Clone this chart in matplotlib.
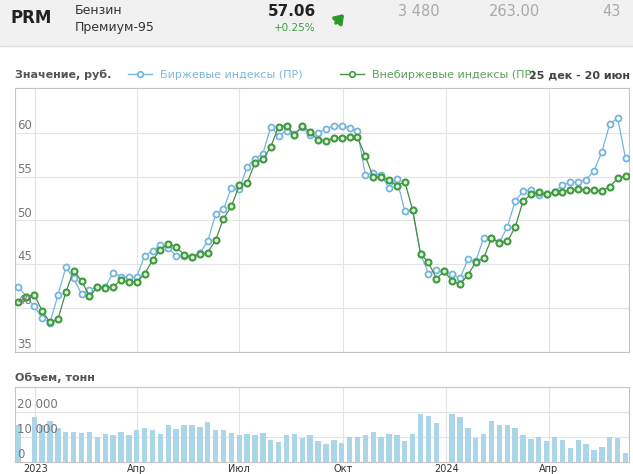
import matplotlib
matplotlib.use("Agg")
import matplotlib.pyplot as plt
import matplotlib.dates as mdates
from matplotlib.patches import Rectangle
from matplotlib.lines import Line2D
from matplotlib.ticker import FuncFormatter
import pandas as pd

# weekly points
dates = pd.date_range("2022-12-17", periods=78, freq="7D")

exchange = [42.45, 41.3, 40.2, 38.93, 38.35, 41.45, 44.65, 43.4, 41.6, 42.05,
            42.4, 42.45, 43.97, 43.6, 43.5, 43.6, 45.95, 46.5, 47.2, 46.87,
            45.95, 46.0, 45.88, 46.3, 47.6, 50.7, 51.3, 53.7, 53.55, 56.1,
            57.06, 57.63, 60.69, 59.66, 60.25, 59.85, 60.6, 59.7, 60.0, 60.42,
            60.82, 60.82, 60.58, 60.2, 55.15, 55.42, 55.17, 53.68, 54.7, 51.05,
            51.15, 46.2, 43.95, 44.35, 44.2, 43.85, 43.4, 45.55, 45.35, 47.98,
            47.95, 47.5, 49.22, 52.2, 53.3, 53.45, 52.95, 53.0, 53.25, 54.0,
            54.35, 54.35, 54.66, 55.65, 57.82, 60.99, 61.68, 57.1]

otc = [40.72, 41.3, 41.55, 39.7, 38.37, 38.72, 41.8, 44.27, 43.13, 41.34,
       42.37, 42.3, 42.44, 43.2, 43.0, 43.0, 43.9, 45.46, 46.64, 47.37,
       46.95, 46.1, 45.84, 46.18, 46.34, 47.75, 50.19, 51.6, 54.0, 54.27,
       56.56, 56.95, 58.4, 60.7, 60.8, 59.73, 60.8, 60.05, 59.18, 59.07,
       59.4, 59.4, 59.52, 59.52, 57.33, 54.94, 54.94, 54.56, 53.98, 54.41,
       51.2, 46.18, 45.21, 43.38, 44.18, 43.11, 42.7, 43.76, 45.25, 45.69,
       47.96, 47.48, 47.61, 49.22, 52.19, 52.96, 53.24, 52.98, 53.24, 53.24,
       53.5, 53.55, 53.47, 53.47, 53.36, 53.82, 54.8, 55.04]

volume = [14700, 0, 18000, 14900, 16300, 13600, 11900, 11900, 11500, 12100,
          10100, 11300, 10700, 12000, 10700, 12700, 13600, 12700, 11300, 14700,
          13100, 14700, 14700, 14100, 15900, 12700, 12700, 11600, 10700, 11100,
          10700, 11600, 8700, 8100, 10700, 11100, 9500, 10700, 8300, 7300,
          8900, 7700, 9900, 9900, 10900, 11900, 10000, 11300, 10900, 8300,
          11100, 18900, 18300, 15500, 0, 19100, 17900, 13600, 9500, 11300,
          16300, 14700, 14700, 13500, 10900, 9100, 10100, 8300, 10100, 8700,
          5600, 8700, 7100, 4700, 5900, 9900, 9500, 3600]

price_ticks = [35, 40, 45, 50, 55, 60]
volume_ticks = [0, 10000, 20000]
month_names = {1: None, 4: "Апр", 7: "Июл", 10: "Окт"}

BLUE = "#72b6df"
GREEN = "#3f9a3f"
W, H = 633, 474


def fx(x):
    return x / W


def fy(y):
    return 1 - y / H


fig = plt.figure(figsize=(6.33, 4.74), dpi=100)

# header strip
fig.patches.append(Rectangle((0, fy(46)), 1, 46 / H, transform=fig.transFigure,
                             color="#f1f1f1", zorder=0))
fig.add_artist(Line2D([0, 1], [fy(46), fy(46)], color="#e2e2e2", lw=1))
fig.text(fx(10), fy(18), "PRM", fontsize=12, fontweight="bold", color="#222", va="center")
fig.text(fx(75), fy(10), "Бензин", fontsize=9, color="#333", va="center")
fig.text(fx(75), fy(28), "Премиум-95", fontsize=9, color="#333", va="center")
fig.text(fx(316), fy(12), "57.06", fontsize=11, fontweight="bold", color="#222",
         va="center", ha="right")
fig.text(fx(316), fy(28), "+0.25%", fontsize=7.5, color="#3aa03a", va="center", ha="right")
fig.add_artist(plt.Annotation("", xy=(fx(346), fy(12)), xytext=(fx(334), fy(25)),
                              xycoords="figure fraction", textcoords="figure fraction",
                              arrowprops=dict(arrowstyle="-|>,head_length=0.5,head_width=0.35",
                                              color="#2a9a2a", lw=2.5)))
for txt, x in [("3 480", 440), ("263.00", 540), ("43", 621)]:
    fig.text(fx(x), fy(12), txt, fontsize=10.5, color="#aaaaaa", va="center", ha="right")

# titles / legend
fig.text(fx(15), fy(75), "Значение, руб.", fontsize=8, fontweight="bold", color="#555", va="center")
fig.add_artist(Line2D([fx(128), fx(140), fx(152)], [fy(74)] * 3, color=BLUE, lw=1,
                      marker="o", markevery=[1], ms=4, mfc="white", mec=BLUE, mew=1.2))
fig.text(fx(160), fy(75), "Биржевые индексы (ПР)", fontsize=8, color="#7ab8dc", va="center")
fig.add_artist(Line2D([fx(340), fx(352), fx(364)], [fy(74)] * 3, color=GREEN, lw=1,
                      marker="o", markevery=[1], ms=4, mfc="white", mec=GREEN, mew=1.2))
fig.text(fx(372), fy(75), "Внебиржевые индексы (ПР)", fontsize=8, color="#5aa05a", va="center")
fig.text(fx(630), fy(75), "25 дек - 20 июн", fontsize=8, fontweight="bold", color="#444",
         va="center", ha="right")
fig.text(fx(15), fy(378), "Объем, тонн", fontsize=8, fontweight="bold", color="#555", va="center")

ax = fig.add_axes([fx(15), fy(352), 614 / W, 264 / H])
ax2 = fig.add_axes([fx(15), fy(462), 614 / W, 75 / H])

xpad = pd.Timedelta(days=3.1)
for a in (ax, ax2):
    a.set_xlim(dates[0] - xpad, dates[-1] + xpad)
    a.xaxis.set_major_locator(mdates.MonthLocator(bymonth=[1, 4, 7, 10]))
    a.grid(True, color="#e4e4e4", lw=0.8)
    a.set_axisbelow(True)
    a.tick_params(length=0, labelleft=False)
    for s in a.spines.values():
        s.set_color("#c4c4c4")
        s.set_linewidth(0.8)

ax.plot(dates, exchange, color=BLUE, lw=0.9, marker="o", ms=4.3, mfc="white",
        mec=BLUE, mew=1.3, zorder=3)
ax.plot(dates, otc, color="#4a8a4a", lw=0.9, marker="o", ms=4.3, mfc="#dff0d8",
        mec=GREEN, mew=1.5, zorder=4)
ax.set_ylim(35, 65.1)
ax.set_yticks(price_ticks)
ax.tick_params(labelbottom=False)
btr = ax.get_yaxis_transform()
for t in price_ticks:
    ax.text(0.004, t + 0.1, str(t), transform=btr, fontsize=8.5, color="#777",
            va="bottom", ha="left", zorder=5)

ax2.bar(dates, volume, width=4.8, color="#acd5ea", zorder=2)
ax2.set_ylim(0, 29800)
ax2.set_yticks(volume_ticks)
btr2 = ax2.get_yaxis_transform()
for t in volume_ticks:
    ax2.text(0.004, t + 300, f"{t:,}".replace(",", " "), transform=btr2, fontsize=8.5,
             color="#777", va="bottom", ha="left", zorder=5)


def fmt(v, pos):
    d = mdates.num2date(v)
    return str(d.year) if d.month == 1 else month_names[d.month]


ax2.xaxis.set_major_formatter(FuncFormatter(fmt))
ax2.tick_params(axis="x", pad=1.5, labelsize=7, labelcolor="#333")

fig.savefig("out.png", dpi=100)
